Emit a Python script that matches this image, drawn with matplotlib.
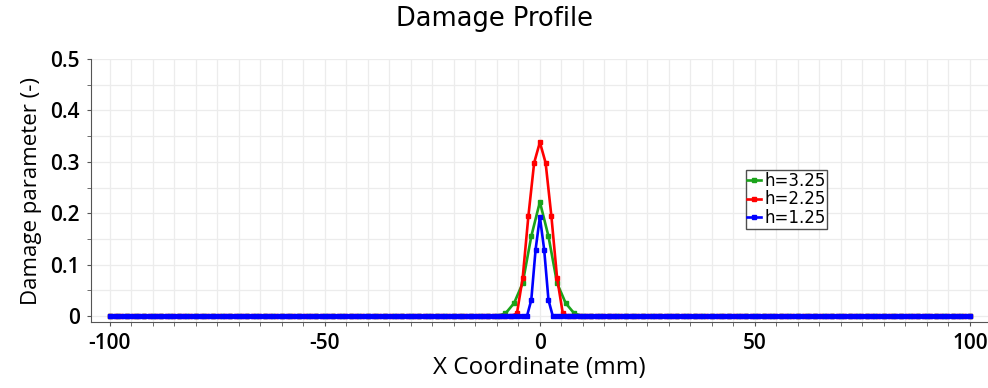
import numpy as np
import matplotlib
matplotlib.use("Agg")
import matplotlib.pyplot as plt
from matplotlib.ticker import MultipleLocator

plt.rcParams["axes.unicode_minus"] = False

# mesh sizes and node spacing (mm)
labels = ["h=3.25", "h=2.25", "h=1.25"]
colors = ["#1aa31a", "#ff0000", "#0000ff"]
spacing = [2.0, 200 / 150, 1.0]

# damage values at the centre nodes (0, +-1, +-2, ... nodes); everything else is 0
centre_h325 = [0.222, 0.155, 0.064, 0.025, 0.005]
centre_h225 = [0.338, 0.298, 0.195, 0.074, 0.005]
centre_h125 = [0.193, 0.129, 0.031]
centres = [centre_h325, centre_h225, centre_h125]


def build_profile(dx, centre):
    n = int(round(100 / dx))
    x = np.linspace(-100, 100, 2 * n + 1)
    d = np.zeros_like(x)
    for k, v in enumerate(centre):
        d[n + k] = v
        d[n - k] = v
    return x, d


fig = plt.figure(figsize=(9.88, 3.88), dpi=100)
ax = fig.add_axes([0.092, 0.170, 0.908, 0.678])

for lab, col, dx, cen in zip(labels, colors, spacing, centres):
    x, d = build_profile(dx, cen)
    ax.plot(x, d, color=col, lw=1.9, marker="s", ms=2.3, label=lab)

ax.set_xlim(-104.4, 104.2)
ax.set_ylim(-0.0117, 0.5)

ax.xaxis.set_major_locator(MultipleLocator(50))
ax.xaxis.set_minor_locator(MultipleLocator(5))
ax.yaxis.set_minor_locator(MultipleLocator(0.05))
ax.set_yticks(np.arange(0, 0.51, 0.1))
ax.set_yticklabels(["0", "0.1", "0.2", "0.3", "0.4", "0.5"])

ax.grid(which="both", color="#ececec", lw=0.9)
ax.set_axisbelow(True)
for s in ["top", "right"]:
    ax.spines[s].set_visible(False)
for s in ["left", "bottom"]:
    ax.spines[s].set_color("#555555")
ax.tick_params(which="both", direction="out", length=3, color="#555555")
ax.tick_params(which="major", labelsize=15, pad=5)

for t in ax.get_xticklabels() + ax.get_yticklabels():
    t.set_fontfamily("Open Sans")
    t.set_fontweight("semibold")

ax.set_xlabel("X Coordinate (mm)", fontsize=17.5, family="Open Sans", labelpad=1)
ax.set_ylabel("Damage parameter (-)", fontsize=16, family="Open Sans", labelpad=6)
fig.suptitle("Damage Profile", fontsize=18.5, family="DejaVu Sans", color="black", y=0.985)

leg = ax.legend(loc="upper left", bbox_to_anchor=(0.730, 0.578), fontsize=12,
                frameon=True, fancybox=False, handlelength=0.8, handletextpad=0.2,
                borderpad=0.1, labelspacing=0.05, borderaxespad=0)
leg.get_frame().set_edgecolor("#222222")
leg.get_frame().set_linewidth(1.0)

fig.savefig("out.png", dpi=100)
